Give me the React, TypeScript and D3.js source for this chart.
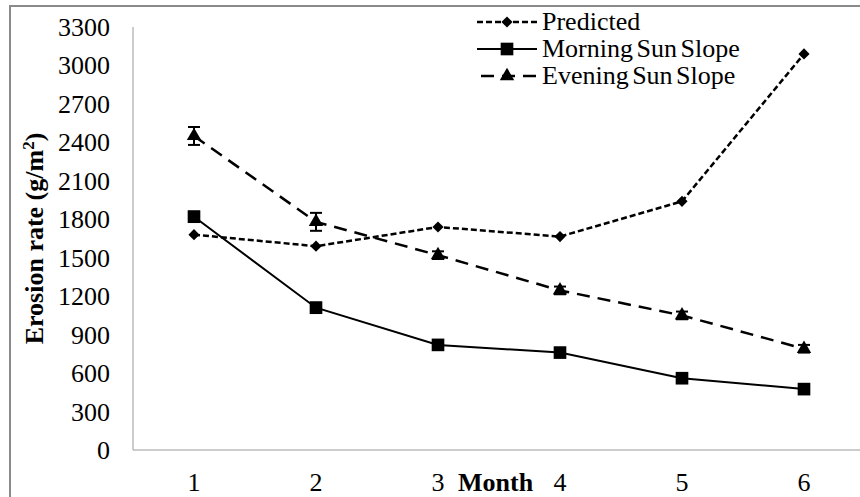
import React from "react";
import * as d3 from "d3";

const months = [1, 2, 3, 4, 5, 6];
const predicted = [1680, 1590, 1740, 1665, 1940, 3090];
const morning = [1820, 1110, 820, 760, 560, 475];
const morningErr = [40, 40, 15, 15, 15, 15];
const evening = [2450, 1780, 1520, 1245, 1050, 790];
const eveningErr = [70, 70, 30, 30, 30, 30];
const yTicks = [0, 300, 600, 900, 1200, 1500, 1800, 2100, 2400, 2700, 3000, 3300];
const seriesNames = ["Predicted", "Morning Sun Slope", "Evening Sun Slope"];

const W = 860;
const H = 497;
const FONT = "'Liberation Serif', 'Times New Roman', serif";

export default function App() {
  const x = d3.scaleBand<number>().domain(months).range([133, 865]);
  const cx = (m: number) => (x(m) as number) + x.bandwidth() / 2;
  const y = d3.scaleLinear().domain([0, 3300]).range([450, 27]);

  const line = d3
    .line<number>()
    .x((_, i) => cx(months[i]))
    .y((v) => y(v));

  // diamond = square turned 45 degrees
  const diamond = d3.symbol().type(d3.symbolSquare).size(62)();
  const square = d3.symbol().type(d3.symbolSquare).size(160)();
  const triangle = d3.symbol().type(d3.symbolTriangle).size(90)();

  const errBars = (vals: number[], errs: number[], key: string) =>
    vals.map((v, i) => {
      const px = cx(months[i]);
      const y1 = y(v + errs[i]);
      const y2 = y(v - errs[i]);
      return (
        <g key={key + i} stroke="#000" strokeWidth={2}>
          <line x1={px} x2={px} y1={y1} y2={y2} />
          <line x1={px - 6} x2={px + 6} y1={y1} y2={y1} />
          <line x1={px - 6} x2={px + 6} y1={y2} y2={y2} />
        </g>
      );
    });

  const legendX1 = 477;
  const legendX2 = 537;
  const legendMid = 507;
  const legendBase = [30, 57, 84];

  return (
    <svg width={W} height={H} style={{ position: "absolute", left: 0, top: 0 }}>
      <rect x={0} y={0} width={W} height={H} fill="#fff" />
      {/* outer chart frame */}
      <rect x={10} y={6} width={W + 20} height={H + 20} fill="none" stroke="#8a8a8a" strokeWidth={2} />

      {/* axes */}
      <line x1={133} x2={133} y1={y(3300)} y2={y(0)} stroke="#9a9a9a" strokeWidth={1} />
      <line x1={133} x2={865} y1={y(0)} y2={y(0)} stroke="#9a9a9a" strokeWidth={1} />

      {yTicks.map((t) => (
        <text key={t} x={110} y={y(t) + 9} textAnchor="end" fontFamily={FONT} fontSize={26} fill="#000">
          {t}
        </text>
      ))}
      {months.map((m) => (
        <text key={m} x={cx(m)} y={491} textAnchor="middle" fontFamily={FONT} fontSize={26} fill="#000">
          {m}
        </text>
      ))}
      <text x={458} y={491} fontFamily={FONT} fontSize={26} fontWeight="bold" fill="#000">
        Month
      </text>
      <text
        transform={`translate(43, ${(y(0) + y(3300)) / 2}) rotate(-90)`}
        textAnchor="middle"
        fontFamily={FONT}
        fontSize={26}
        fontWeight="bold"
        fill="#000"
      >
        Erosion rate (g/m
        <tspan dy={-9} fontSize={17}>2</tspan>
        <tspan dy={9}>)</tspan>
      </text>

      {/* series lines */}
      <path d={line(predicted) as string} fill="none" stroke="#000" strokeWidth={2.5} strokeDasharray="6,3" />
      <path d={line(morning) as string} fill="none" stroke="#000" strokeWidth={2} />
      <path d={line(evening) as string} fill="none" stroke="#000" strokeWidth={2.5} strokeDasharray="13,8" />

      {errBars(morning, morningErr, "m")}
      {errBars(evening, eveningErr, "e")}

      {predicted.map((v, i) => (
        <path key={"p" + i} d={diamond as string} transform={`translate(${cx(months[i])},${y(v)}) rotate(45)`} fill="#000" />
      ))}
      {morning.map((v, i) => (
        <path key={"s" + i} d={square as string} transform={`translate(${cx(months[i])},${y(v)})`} fill="#000" />
      ))}
      {evening.map((v, i) => (
        <path key={"t" + i} d={triangle as string} transform={`translate(${cx(months[i])},${y(v)})`} fill="#000" />
      ))}

      {/* legend */}
      <g>
        <line x1={legendX1} x2={legendX2} y1={legendBase[0] - 8} y2={legendBase[0] - 8} stroke="#000" strokeWidth={2.5} strokeDasharray="6,3" />
        <path d={diamond as string} transform={`translate(${legendMid},${legendBase[0] - 8}) rotate(45)`} fill="#000" />
        <line x1={legendX1} x2={legendX2} y1={legendBase[1] - 8} y2={legendBase[1] - 8} stroke="#000" strokeWidth={2} />
        <path d={square as string} transform={`translate(${legendMid},${legendBase[1] - 8})`} fill="#000" />
        <line x1={legendX1} x2={legendX2} y1={legendBase[2] - 8} y2={legendBase[2] - 8} stroke="#000" strokeWidth={2.5} strokeDasharray="13,8" strokeDashoffset={-4} />
        <path d={triangle as string} transform={`translate(${legendMid},${legendBase[2] - 8})`} fill="#000" />
        {seriesNames.map((n, i) => (
          <text key={n} x={542} y={legendBase[i]} fontFamily={FONT} fontSize={26} fill="#000" wordSpacing={-3}>
            {n}
          </text>
        ))}
      </g>
    </svg>
  );
}
